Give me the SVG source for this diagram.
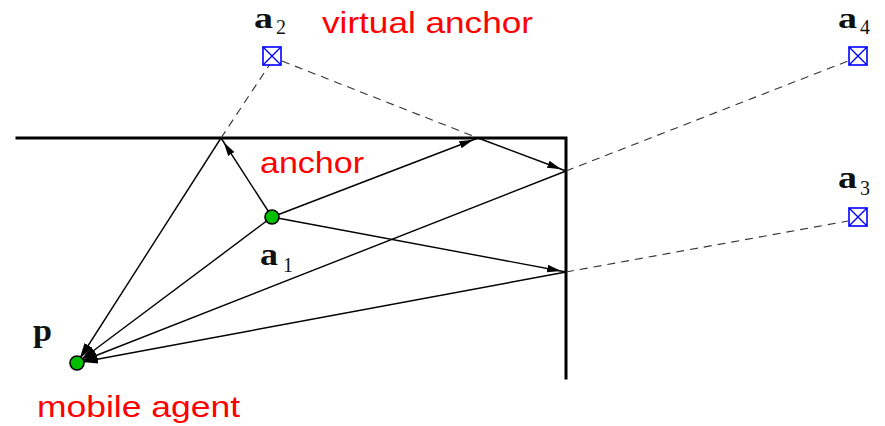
<svg xmlns="http://www.w3.org/2000/svg" width="885" height="426" viewBox="0 0 885 426">
<style>
.wall{stroke:#000;stroke-width:3;fill:none;stroke-linecap:square}
.ray{stroke:#000;stroke-width:1.4;fill:none}
.dash{stroke:#333;stroke-width:1.1;fill:none;stroke-dasharray:8 6}
.lbl{font-family:"Liberation Sans",Arial,sans-serif;fill:#ff0000;font-size:29px}
.m{font-family:"Liberation Serif","Times New Roman",serif;font-weight:bold;font-size:32px;fill:#111}
.mt{font-size:30px}
.s{font-family:"Liberation Serif","Times New Roman",serif;font-size:20px;fill:#111}
.box{fill:#fff;stroke:#0000ff;stroke-width:1.6}
.dot{fill:#00c000;stroke:#000;stroke-width:1.6}
</style>
<defs>
<marker id="ah" markerUnits="userSpaceOnUse" viewBox="0 0 20 12" markerWidth="20" markerHeight="12" refX="19" refY="6" orient="auto">
<path d="M0,2.3 L14,6 L0,9.7 z" fill="#000"/>
</marker>
<marker id="ap" markerUnits="userSpaceOnUse" viewBox="0 0 24 12" markerWidth="24" markerHeight="12" refX="21" refY="6" orient="auto">
<path d="M0,1.5 L16,6 L0,10.5 z" fill="#000"/>
</marker>
</defs>
<g id="walls">
<path class="wall" d="M17,138 L566,138 L566,378"/>
</g>
<g id="connectors">
<path class="dash" d="M221,138 L270,64"/>
<path class="dash" d="M282,61 L478,138"/>
<path class="dash" d="M566,171 L848,61"/>
<path class="dash" d="M566,272 L848,221"/>
<path class="ray" d="M272,217 L221,138" marker-end="url(#ah)"/>
<path class="ray" d="M272,217 L478,138" marker-end="url(#ah)"/>
<path class="ray" d="M478,138 L566,171" marker-end="url(#ah)"/>
<path class="ray" d="M272,217 L566,272" marker-end="url(#ah)"/>
<path class="ray" d="M221,138 L77,363" marker-end="url(#ap)"/>
<path class="ray" d="M272,217 L77,363" marker-end="url(#ap)"/>
<path class="ray" d="M566,171 L77,363" marker-end="url(#ap)"/>
<path class="ray" d="M566,272 L77,363" marker-end="url(#ap)"/>
</g>
<g id="a1">
<circle class="dot" cx="272" cy="217" r="7"/>
<text class="m" x="260" y="265" textLength="18" lengthAdjust="spacingAndGlyphs">a</text><text class="s" x="283" y="272">1</text>
</g>
<g id="p">
<circle class="dot" cx="77" cy="363" r="7"/>
<text class="m" x="33" y="341" textLength="19" lengthAdjust="spacingAndGlyphs">p</text>
</g>
<g id="a2">
<rect class="box" x="263" y="47" width="18" height="18"/>
<path d="M263,47 L281,65 M281,47 L263,65" stroke="#0000ff" stroke-width="1.4"/>
<text class="m mt" x="254" y="28" textLength="19" lengthAdjust="spacingAndGlyphs">a</text><text class="s" x="276" y="34">2</text>
</g>
<g id="a4">
<rect class="box" x="849" y="47" width="18" height="18"/>
<path d="M849,47 L867,65 M867,47 L849,65" stroke="#0000ff" stroke-width="1.4"/>
<text class="m mt" x="838" y="28" textLength="19" lengthAdjust="spacingAndGlyphs">a</text><text class="s" x="860" y="34">4</text>
</g>
<g id="a3">
<rect class="box" x="849" y="208" width="18" height="18"/>
<path d="M849,208 L867,226 M867,208 L849,226" stroke="#0000ff" stroke-width="1.4"/>
<text class="m" x="838" y="188" textLength="19" lengthAdjust="spacingAndGlyphs">a</text><text class="s" x="860" y="195">3</text>
</g>
<g id="labels">
<text class="lbl" x="322" y="33" textLength="211" lengthAdjust="spacingAndGlyphs">virtual anchor</text>
<text class="lbl" x="260" y="173" textLength="104" lengthAdjust="spacingAndGlyphs">anchor</text>
<text class="lbl" x="37" y="417" textLength="203" lengthAdjust="spacingAndGlyphs">mobile agent</text>
</g>
</svg>
